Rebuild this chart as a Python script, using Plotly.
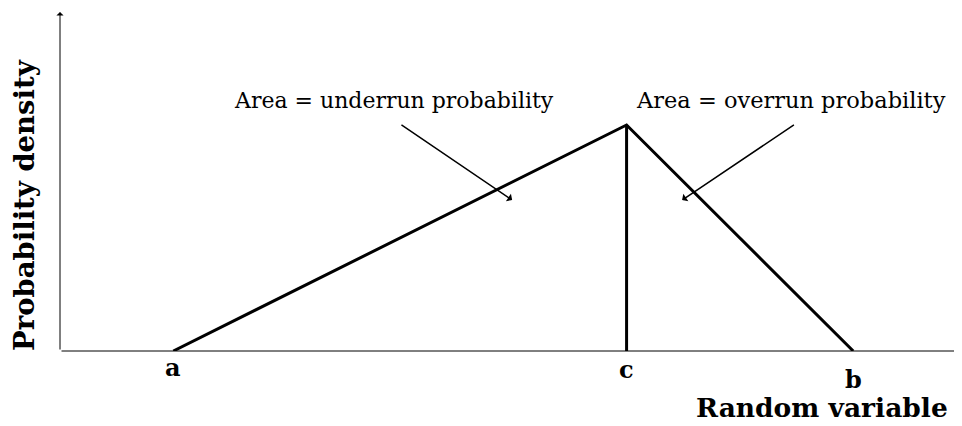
import plotly.graph_objects as go

# Triangular distribution parameters
point_labels = ["a", "c", "b"]
point_x = [1.0, 5.0, 7.0]
peak_density = 2.0
x_max = 7.96
y_max = 3.0

a, c, b = point_x
FONT = "DejaVu Serif"

fig = go.Figure()
fig.add_trace(go.Scatter(x=[a, c, b], y=[0, peak_density, 0], mode="lines",
                         line=dict(color="black", width=3), hoverinfo="skip"))
fig.add_trace(go.Scatter(x=[c, c], y=[0, peak_density], mode="lines",
                         line=dict(color="black", width=3), hoverinfo="skip"))

ann = []
ann.append(dict(x=0, y=y_max, ax=0, ay=0, xref="x", yref="y", axref="x", ayref="y",
                showarrow=True, arrowhead=1, arrowsize=1.2, arrowwidth=1, arrowcolor="black", text=""))
ann.append(dict(x=x_max, y=0, ax=0, ay=0, xref="x", yref="y", axref="x", ayref="y",
                showarrow=True, arrowhead=1, arrowsize=1.2, arrowwidth=1, arrowcolor="black", text=""))
shifts = {"a": 0, "c": -2, "b": -12}
for lab, xv in zip(point_labels, point_x):
    ann.append(dict(x=xv, y=0, xref="x", yref="y", text="<b>%s</b>" % lab, showarrow=False,
                    yanchor="top", yshift=shifts[lab],
                    font=dict(family=FONT, size=24, color="black")))
ann.append(dict(x=3.99, y=1.336, ax=3.0, ay=2.01, xref="x", yref="y", axref="x", ayref="y",
                showarrow=True, arrowhead=1, arrowsize=1, arrowwidth=1.5, arrowcolor="black", text=""))
ann.append(dict(x=5.49, y=1.336, ax=6.49, ay=2.01, xref="x", yref="y", axref="x", ayref="y",
                showarrow=True, arrowhead=1, arrowsize=1, arrowwidth=1.5, arrowcolor="black", text=""))
ann.append(dict(x=2.95, y=2.22, xref="x", yref="y", text="Area = underrun probability",
                showarrow=False, font=dict(family=FONT, size=22, color="black")))
ann.append(dict(x=6.45, y=2.22, xref="x", yref="y", text="Area = overrun probability",
                showarrow=False, font=dict(family=FONT, size=22.5, color="black")))
ann.append(dict(x=0.9867, y=-0.168, xref="paper", yref="paper", text="<b>Random variable</b>",
                showarrow=False, xanchor="right", yanchor="middle",
                font=dict(family=FONT, size=26.5, color="black")))
ann.append(dict(x=-0.0399, y=0.4307, xref="paper", yref="paper", text="<b>Probability density</b>",
                showarrow=False, textangle=-90, xanchor="center", yanchor="middle",
                font=dict(family=FONT, size=27.5, color="black")))

fig.update_layout(
    width=954, height=418,
    margin=dict(l=52, r=0, t=4, b=75),
    paper_bgcolor="white", plot_bgcolor="white",
    showlegend=False,
    annotations=ann,
    xaxis=dict(range=[0, x_max], showgrid=False, zeroline=False, showticklabels=False,
               ticks="", showline=False, fixedrange=True),
    yaxis=dict(range=[0, y_max], showgrid=False, zeroline=False, showticklabels=False,
               ticks="", showline=False, fixedrange=True),
)
fig.write_html("out.html")
